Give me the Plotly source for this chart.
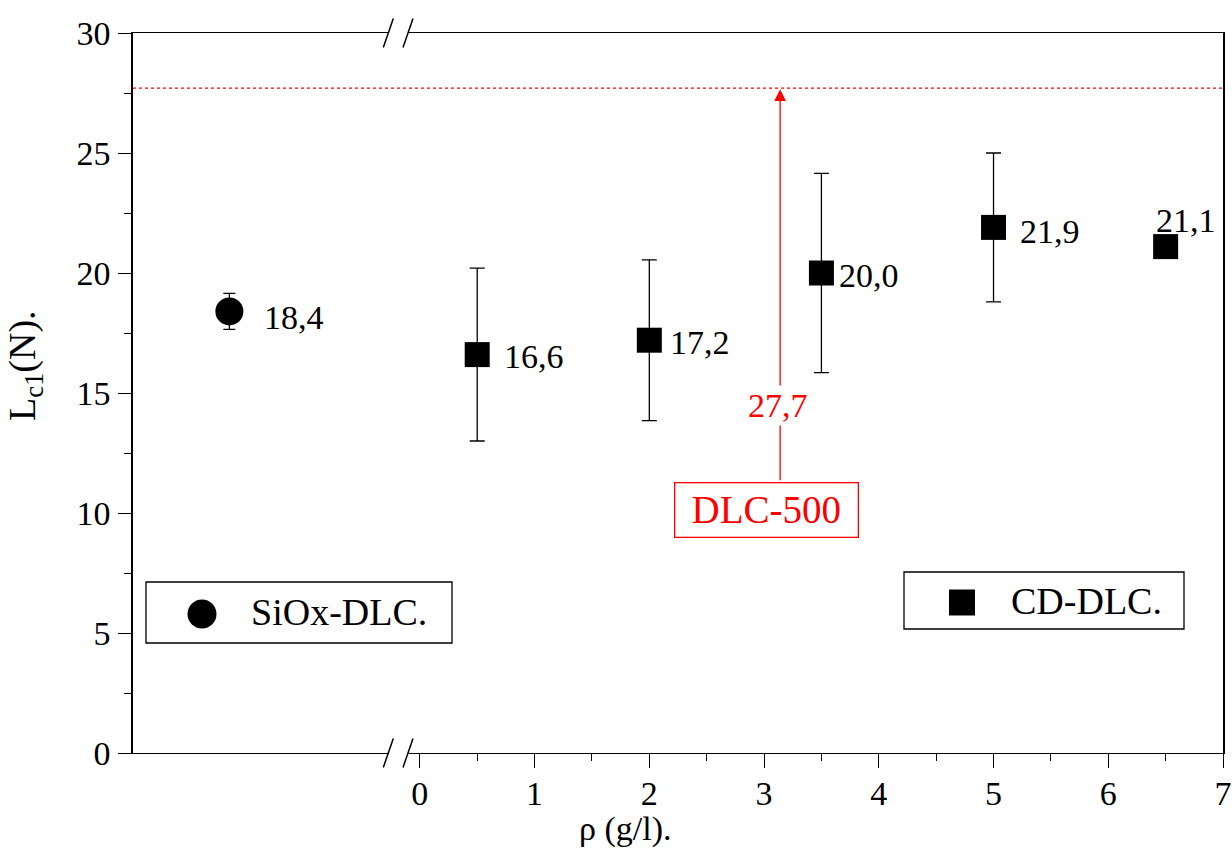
import plotly.graph_objects as go

# ---- data -------------------------------------------------------------
# SiOx-DLC reference sample, placed left of the axis break
siox_x = [-1.66]
siox_lc1 = [18.4]
siox_err = [0.75]

# CD-DLC coatings vs. concentration rho (g/l)
cd_rho = [0.5, 2.0, 3.5, 5.0, 6.5]
cd_lc1 = [16.6, 17.2, 20.0, 21.9, 21.1]
cd_err = [3.6, 3.35, 4.15, 3.1, 0.0]

# DLC-500 reference level
dlc500_lc1 = 27.7
dlc500_x = 3.14

x_tickvals = [0, 1, 2, 3, 4, 5, 6, 7]
x_minorvals = [0.5, 1.5, 2.5, 3.5, 4.5, 5.5, 6.5]
y_tickvals = [0, 5, 10, 15, 20, 25, 30]

# ---- layout geometry (pixels) ----------------------------------------
W, H = 1232, 851
ML, MR, MT, MB = 133, 9, 33, 98
PW, PH = W - ML - MR, H - MT - MB
FONT = "Liberation Serif, Times New Roman, serif"


def px(x):
    return (x - ML) / PW


def py(y):
    return (H - MB - y) / PH


def fmt(v):
    return f"{v:.1f}".replace(".", ",")


fig = go.Figure()

fig.add_trace(go.Scatter(
    x=siox_x, y=siox_lc1, mode="markers", name="SiOx-DLC.",
    marker=dict(symbol="circle", size=28, color="black"),
    error_y=dict(type="data", array=siox_err, visible=True,
                 color="black", thickness=1.3, width=6),
    showlegend=False,
))
fig.add_trace(go.Scatter(
    x=cd_rho, y=cd_lc1, mode="markers", name="CD-DLC.",
    marker=dict(symbol="square", size=25, color="black"),
    error_y=dict(type="data", array=cd_err, visible=True,
                 color="black", thickness=1.3, width=7.5),
    showlegend=False,
))

annotations = []

# value labels next to each point
label_style = [(33, -6)]
for x, v, (dx, dy) in zip(siox_x, siox_lc1, label_style):
    annotations.append(dict(x=x, y=v, text=fmt(v), showarrow=False,
                            xanchor="left", yanchor="middle",
                            xshift=dx, yshift=dy,
                            font=dict(size=34, color="black", family=FONT)))
cd_label_style = [(25, -2), (19, -2), (16, -2), (24, -4), (-12, 26)]
for x, v, (dx, dy) in zip(cd_rho, cd_lc1, cd_label_style):
    annotations.append(dict(x=x, y=v, text=fmt(v), showarrow=False,
                            xanchor="left", yanchor="middle",
                            xshift=dx, yshift=dy,
                            font=dict(size=34, color="black", family=FONT)))

# DLC-500 arrow up to its level, with boxed name and value
annotations.append(dict(x=dlc500_x, y=dlc500_lc1, ax=dlc500_x, ay=11.3,
                        axref="x", ayref="y", xref="x", yref="y",
                        text="", showarrow=True, arrowhead=2, arrowsize=1.8,
                        arrowwidth=1.3, arrowcolor="red", standoff=1))
annotations.append(dict(x=dlc500_x - 0.02, y=14.5, text=fmt(dlc500_lc1),
                        showarrow=False, bgcolor="white",
                        xanchor="center", yanchor="middle",
                        font=dict(size=34, color="red", family=FONT)))
annotations.append(dict(x=dlc500_x - 0.12, y=10.13, text="DLC-500",
                        showarrow=False, bgcolor="white", bordercolor="red",
                        xanchor="center", yanchor="middle",
                        borderwidth=1.3, borderpad=0, width=182, height=53,
                        font=dict(size=39, color="red", family=FONT)))

# axis titles
annotations.append(dict(xref="paper", yref="paper", x=px(625), y=py(829),
                        xanchor="center", yanchor="middle",
                        text="ρ (g/l).", showarrow=False,
                        font=dict(size=34, color="black", family=FONT)))
annotations.append(dict(xref="paper", yref="paper", x=px(25), y=py(366),
                        xanchor="center", yanchor="middle",
                        text="L<sub>c1</sub>(N).", showarrow=False,
                        textangle=-90,
                        font=dict(size=38, color="black", family=FONT)))

# legend boxes
annotations.append(dict(xref="paper", yref="paper", x=px(249), y=py(612),
                        xanchor="left", yanchor="middle",
                        text="SiOx-DLC.", showarrow=False,
                        font=dict(size=38, color="black", family=FONT)))
annotations.append(dict(xref="paper", yref="paper", x=px(1009), y=py(601),
                        xanchor="left", yanchor="middle",
                        text="CD-DLC.", showarrow=False,
                        font=dict(size=38, color="black", family=FONT)))

shapes = [
    # DLC-500 dotted reference line
    dict(type="line", xref="paper", yref="y", x0=0, x1=1,
         y0=dlc500_lc1, y1=dlc500_lc1,
         line=dict(color="red", width=1.3, dash="dot")),
    # legend frames
    dict(type="rect", xref="paper", yref="paper",
         x0=px(146), x1=px(452), y0=py(643), y1=py(582),
         line=dict(color="black", width=1.3), fillcolor="white", layer="below"),
    dict(type="rect", xref="paper", yref="paper",
         x0=px(904), x1=px(1184), y0=py(629), y1=py(572),
         line=dict(color="black", width=1.3), fillcolor="white", layer="below"),
    dict(type="circle", xref="paper", yref="paper",
         x0=px(202 - 14.5), x1=px(202 + 14.5), y0=py(614 + 14.5), y1=py(614 - 14.5),
         line=dict(width=0), fillcolor="black"),
    dict(type="rect", xref="paper", yref="paper",
         x0=px(962 - 13), x1=px(962 + 13), y0=py(602.5 + 13), y1=py(602.5 - 13),
         line=dict(width=0), fillcolor="black"),
]

# axis break marks on the bottom and top frame lines
for yb in (H - MB, MT):
    shapes.append(dict(type="rect", xref="paper", yref="paper",
                       x0=px(388.5), x1=px(408.5), y0=py(yb + 4), y1=py(yb - 4),
                       line=dict(width=0), fillcolor="white", layer="above"))
    for xc in (388.3, 408.0):
        shapes.append(dict(type="line", xref="paper", yref="paper",
                           x0=px(xc - 5), x1=px(xc + 5),
                           y0=py(yb + 14.5), y1=py(yb - 14.5),
                           line=dict(color="black", width=1.5), layer="above"))

fig.update_layout(
    width=W, height=H,
    margin=dict(l=ML, r=MR, t=MT, b=MB, autoexpand=False),
    paper_bgcolor="white", plot_bgcolor="white",
    font=dict(family=FONT, size=34, color="black"),
    annotations=annotations,
    shapes=shapes,
    showlegend=False,
)

fig.update_xaxes(
    range=[-2.5, 7], showgrid=False, zeroline=False, automargin=False,
    showline=True, linecolor="black", linewidth=1.3, mirror=True,
    ticks="outside", tickvals=x_tickvals, ticklen=14, tickwidth=1.3,
    tickcolor="black", ticklabelstandoff=-4,
    minor=dict(tickvals=x_minorvals, ticks="outside", ticklen=7,
               tickwidth=1.3, tickcolor="black"),
    tickfont=dict(size=34, family=FONT),
)
fig.update_yaxes(
    range=[0, 30], showgrid=False, zeroline=False, automargin=False,
    showline=True, linecolor="black", linewidth=1.5, mirror=True,
    ticks="outside", tickvals=y_tickvals, ticklen=13, tickwidth=1.3,
    tickcolor="black", ticklabelstandoff=1,
    minor=dict(dtick=2.5, ticks="outside", ticklen=7,
               tickwidth=1.3, tickcolor="black"),
    tickfont=dict(size=34, family=FONT),
)

fig.write_html("out.html")
